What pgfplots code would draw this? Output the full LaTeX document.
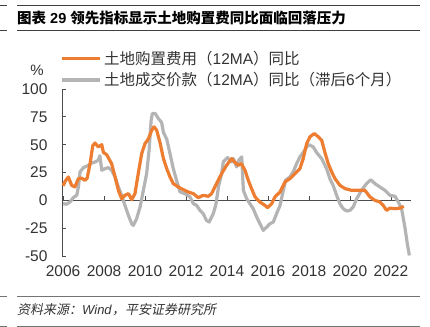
\documentclass[border=0pt]{standalone}
\usepackage{pgfplots}
\pgfplotsset{compat=1.18}
\usepackage{fontspec}
\setmainfont{Liberation Sans}
\newfontfamily\cjk{Noto Sans CJK SC}
\newfontfamily\cjkit[FakeSlant=0.2]{Noto Sans CJK SC}
\definecolor{orng}{HTML}{ED7D31}
\definecolor{gry}{HTML}{B4B4B4}
\definecolor{txt}{HTML}{333333}
\begin{document}
\begin{tikzpicture}
\path[use as bounding box] (0,0) rectangle (430bp,327bp);
% header
\draw[line width=0.8bp, black!75] (17bp,322bp) -- (420bp,322bp);
\draw[line width=0.8bp, black!75] (0bp,322bp) -- (7bp,322bp);
\draw[line width=0.8bp, black!75] (17bp,297bp) -- (420bp,297bp);
\draw[line width=0.8bp, black!75] (0bp,297bp) -- (7bp,297bp);
\node[anchor=west, inner sep=0pt, font=\fontsize{14.5bp}{16bp}\selectfont\bfseries] at (17bp,309bp) {{\cjk 图表} 29 {\cjk 领先指标显示土地购置费同比面临回落压力}};
% footer
\draw[line width=0.8bp, black!55] (17bp,31bp) -- (420bp,31bp);
\draw[line width=0.8bp, black!55] (0bp,31bp) -- (7bp,31bp);
\draw[line width=0.8bp, black!55] (17bp,1bp) -- (420bp,1bp);
\draw[line width=0.8bp, black!55] (0bp,1bp) -- (7bp,1bp);
\node[anchor=west, inner sep=0pt, text=txt, font=\fontsize{13bp}{15bp}\selectfont] at (17bp,17bp) {{\cjkit 资料来源：}\textit{Wind}{\cjkit ，平安证券研究所}};
% legend
\node[text=txt, font=\fontsize{15bp}{17bp}\selectfont] at (37bp,257bp) {\%};
\draw[orng, line width=3.2bp] (62bp,268.5bp) -- (100bp,268.5bp);
\draw[gry, line width=3.2bp] (62bp,247bp) -- (100bp,247bp);
\node[anchor=west, inner sep=0pt, text=txt, font=\fontsize{15.5bp}{17bp}\selectfont] at (104bp,268.5bp) {{\cjk 土地购置费用（}12MA{\cjk ）同比}};
\node[anchor=west, inner sep=0pt, text=txt, font=\fontsize{15.5bp}{17bp}\selectfont] at (104bp,247bp) {{\cjk 土地成交价款（}12MA{\cjk ）同比（滞后}6{\cjk 个月）}};
\begin{axis}[
  at={(62bp,71bp)}, anchor=south west,
  scale only axis, width=349bp, height=167bp,
  xmin=2005.95, xmax=2022.98, ymin=-50, ymax=100,
  axis x line=middle, axis y line=left,
  axis line style={-, black!70, line width=0.7bp},
  hide obscured x ticks=false,
  xtick={2006,2008,...,2022}, ytick={-50,-25,...,100},
  tick align=inside, major tick length=4bp,
  tick style={black!70, line width=0.7bp},
  xticklabel shift=62bp,
  yticklabel style={xshift=-11bp},
  /pgf/number format/assume math mode=true,
  /pgf/number format/1000 sep={},
  ticklabel style={font=\fontsize{15.5bp}{17bp}\selectfont, text=txt},
  clip=false,
]
\addplot[gry, line width=3.2bp, line join=round] coordinates {
(2006.0,-3) (2006.17,-3.5) (2006.34,-1.5) (2006.5,2.4) (2006.67,4.5) (2006.75,12) (2006.83,25.5) (2007.0,29.4) (2007.24,31.5) (2007.4,33.5) (2007.56,34.4) (2007.72,36) (2007.8,40) (2007.89,27) (2008.05,28.5) (2008.21,29.4) (2008.37,27) (2008.54,21) (2008.7,12) (2008.86,4.5) (2009.02,-4.5) (2009.19,-13.5) (2009.35,-21) (2009.43,-22.5) (2009.59,-16.5) (2009.76,-6) (2009.92,9) (2010.08,24) (2010.2,45) (2010.3,72) (2010.36,78) (2010.5,78) (2010.65,73.5) (2010.81,70) (2010.9,61) (2011.06,55) (2011.22,42) (2011.38,28.5) (2011.54,18) (2011.71,7.5) (2011.95,6) (2012.2,3) (2012.36,-3) (2012.52,-4.5) (2012.68,-9) (2012.84,-12) (2013.0,-18) (2013.13,-19.5) (2013.33,-12) (2013.45,-4.5) (2013.6,13.5) (2013.74,24) (2013.82,34.5) (2014.03,38.4) (2014.23,34.5) (2014.31,37.5) (2014.47,30) (2014.57,36) (2014.72,39) (2014.8,9) (2014.96,1.5) (2015.12,-3) (2015.28,-7.5) (2015.45,-15) (2015.61,-21) (2015.77,-27) (2015.94,-24) (2016.1,-21) (2016.26,-19.5) (2016.42,-12) (2016.59,-4.5) (2016.75,9) (2016.86,18) (2017.07,21) (2017.23,25.5) (2017.4,33) (2017.56,39) (2017.72,43) (2017.89,48) (2018.01,50) (2018.21,48) (2018.37,43) (2018.62,37.5) (2018.86,28.5) (2019.02,19.5) (2019.18,13.5) (2019.35,4.5) (2019.51,-3) (2019.67,-7.5) (2019.84,-9.6) (2020.0,-9) (2020.16,-6) (2020.33,1.5) (2020.57,9) (2020.81,15) (2021.02,18.5) (2021.22,15) (2021.46,12) (2021.71,9) (2021.95,4.5) (2022.2,3.6) (2022.36,-1.5) (2022.52,-7.5) (2022.68,-24) (2022.8,-39) (2022.9,-49.5)
};
\addplot[orng, line width=3.2bp, line join=round] coordinates {
(2006.0,13) (2006.1,17) (2006.26,21) (2006.42,13.5) (2006.58,12) (2006.75,19.5) (2006.9,20) (2007.07,18) (2007.18,20) (2007.32,33) (2007.45,49) (2007.56,51.5) (2007.72,48) (2007.89,50) (2007.97,43) (2008.13,41) (2008.37,33) (2008.54,21) (2008.7,9) (2008.86,1.5) (2009.02,4.5) (2009.19,6) (2009.35,0.6) (2009.51,6) (2009.67,24) (2009.84,42) (2010.0,51) (2010.16,55) (2010.33,63) (2010.44,66) (2010.57,63) (2010.73,52) (2010.9,37.5) (2011.06,28.5) (2011.22,21) (2011.38,15) (2011.62,12) (2011.87,9.6) (2012.11,7.5) (2012.36,6) (2012.6,2.4) (2012.84,4.5) (2013.09,3.6) (2013.25,6) (2013.41,12) (2013.6,19) (2013.74,24) (2013.98,31.5) (2014.23,37.5) (2014.39,34) (2014.55,31.5) (2014.7,33) (2014.88,27) (2015.04,18) (2015.2,10.5) (2015.37,3) (2015.6,-1.5) (2015.85,-4.5) (2015.98,-6.6) (2016.18,-3) (2016.34,3) (2016.59,7.5) (2016.83,16.5) (2017.07,19.5) (2017.32,24) (2017.56,28.5) (2017.72,37.5) (2017.89,51) (2018.05,57) (2018.26,60) (2018.46,57) (2018.62,54) (2018.78,43) (2018.94,33) (2019.11,25.5) (2019.27,19.5) (2019.51,13.5) (2019.76,10.5) (2020.08,9) (2020.4,9) (2020.73,9) (2020.98,3) (2021.22,0) (2021.46,-1.5) (2021.62,-4.5) (2021.79,-9) (2021.95,-7) (2022.2,-7.5) (2022.44,-7) (2022.63,-5.4)
};
\end{axis}
\end{tikzpicture}
\end{document}
